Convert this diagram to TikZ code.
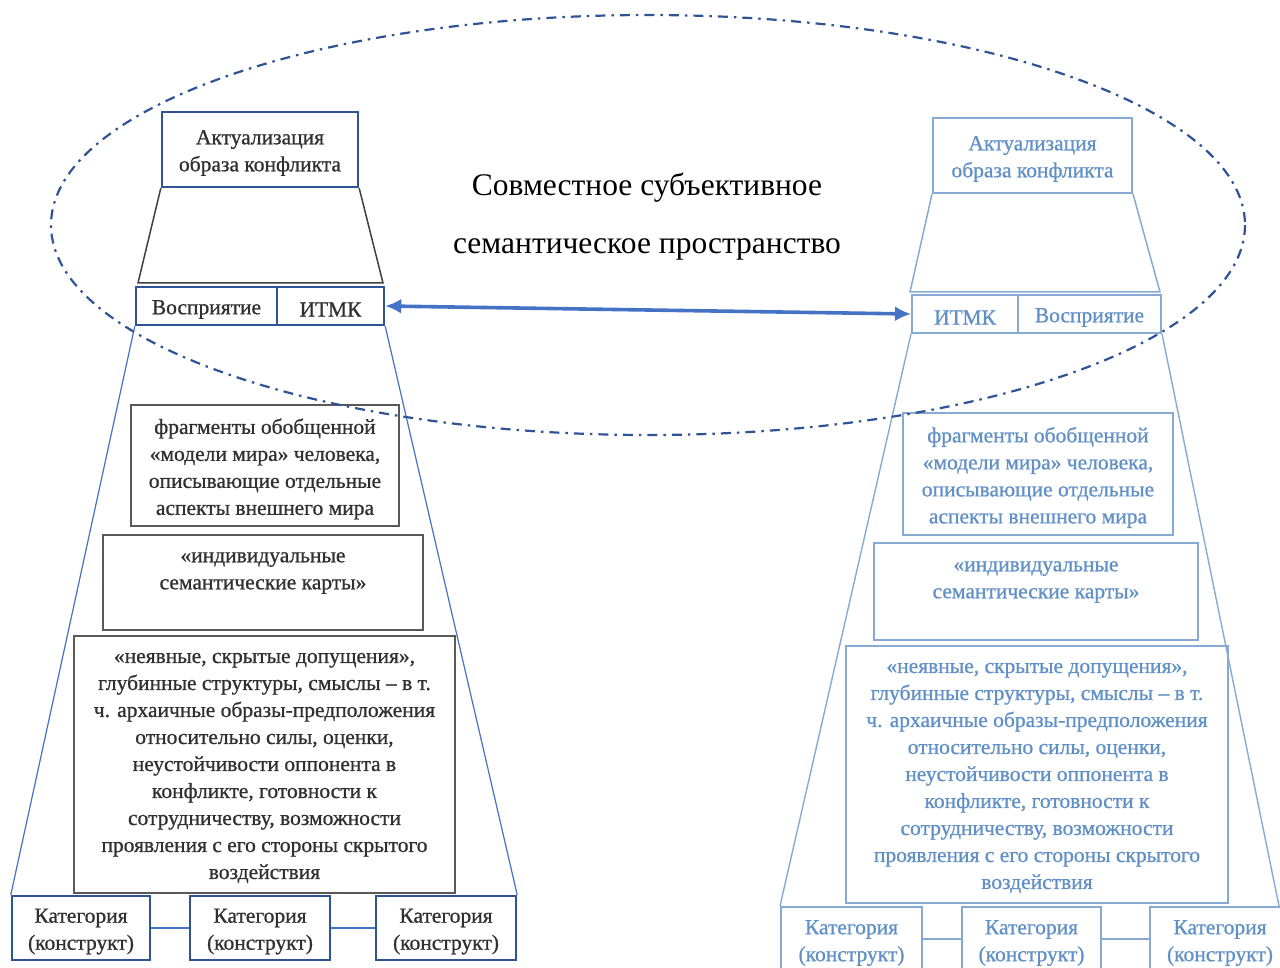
\documentclass[tikz,border=0pt]{standalone}
\usepackage{fontspec}
\setmainfont{Liberation Serif}
\newfontfamily\heavyserif[BoldFont={Liberation Serif}, BoldFeatures={FakeBold=0.8}]{Liberation Serif}
\usetikzlibrary{arrows.meta}
\definecolor{dkblue}{HTML}{2F5496}
\definecolor{midblue}{HTML}{4472C4}
\definecolor{grayL}{HTML}{595959}
\definecolor{trapL}{HTML}{404040}
\definecolor{txtL}{HTML}{303030}
\definecolor{ltline}{HTML}{86AAD3}
\definecolor{txtR}{HTML}{6090C6}
\newcommand{\bxfont}{\heavyserif\bfseries\fontsize{21.5}{27}\selectfont}
\newcommand{\ttlfont}{\fontsize{31.5}{36}\selectfont}
\tikzset{
  base/.style={align=center, inner sep=0pt, font=\bxfont},
  lbox/.style={base, draw=dkblue, line width=2.4pt},
  lgbox/.style={base, draw=grayL, line width=1.6pt},
  rbox/.style={base, draw=ltline, line width=2pt},
  ltxt/.style={base, text=txtL, yshift=-3.5pt},
  rtxt/.style={base, text=txtR, yshift=-3.5pt},
  trapL/.style={draw=trapL, line width=1.5pt},
  trapR/.style={draw=ltline, line width=1.5pt},
  divL/.style={draw=midblue, line width=1.2pt},
  divR/.style={draw=ltline, line width=1.4pt},
  connL/.style={draw=midblue, line width=2pt},
  connR/.style={draw=ltline, line width=2pt},
  ell/.style={draw=dkblue, line width=2.2pt, dash pattern=on 10pt off 6pt on 2.5pt off 6pt},
  link/.style={draw=midblue, line width=3.6pt, {Latex[length=16pt,width=15pt]}-{Latex[length=16pt,width=15pt]}},
}
\begin{document}
\begin{tikzpicture}[x=1pt,y=-1pt]
\clip (0,0) rectangle (1280,968);
\fill[white] (0,0) rectangle (1280,968);

% ---------- left structure ----------
\node[lbox, minimum width=196, minimum height=75, label={[ltxt]center:{Актуализация\\образа конфликта}}] (aL) at (260,149.5) {};
\coordinate (tL1) at (138,283);
\coordinate (tL2) at (383,283);
\draw[trapL] (aL.south west) -- (tL1) -- (tL2) -- (aL.south east);
\node[lbox, minimum width=141, minimum height=38, label={[ltxt]center:Восприятие}] (percL) at (206.5,306) {};
\node[lbox, minimum width=107, minimum height=38, label={[ltxt]center:ИТМК}] (itmkL) at (330.5,306) {};
\node[lgbox, minimum width=268, minimum height=121, label={[ltxt]center:{фрагменты обобщенной\\«модели мира» человека,\\описывающие отдельные\\аспекты внешнего мира}}] (fragL) at (265,465.5) {};
\node[lgbox, minimum width=320, minimum height=95] (indL) at (263,582.5) {};
\node[ltxt] (indLt) at (263,569.5) {«индивидуальные\\семантические карты»};
\node[lgbox, minimum width=381, minimum height=257, label={[ltxt]center:{«неявные, скрытые допущения»,\\глубинные структуры, смыслы – в т.\\ч. архаичные образы-предположения\\относительно силы, оценки,\\неустойчивости оппонента в\\конфликте, готовности к\\сотрудничеству, возможности\\проявления с его стороны скрытого\\воздействия}}] (nevL) at (264.5,764.5) {};
\node[lbox, minimum width=138, minimum height=64, label={[ltxt]center:{Категория\\(конструкт)}}] (c1L) at (81,928) {};
\node[lbox, minimum width=140, minimum height=64, label={[ltxt]center:{Категория\\(конструкт)}}] (c2L) at (260,928) {};
\node[lbox, minimum width=140, minimum height=64, label={[ltxt]center:{Категория\\(конструкт)}}] (c3L) at (446,928) {};
\draw[divL] (percL.south west) -- (c1L.north west);
\draw[divL] (itmkL.south east) -- (c3L.north east);
\draw[connL] (c1L.east) -- (c2L.west);
\draw[connL] (c2L.east) -- (c3L.west);

% ---------- right structure ----------
\node[rbox, minimum width=199, minimum height=75, label={[rtxt]center:{Актуализация\\образа конфликта}}] (aR) at (1032.5,155.5) {};
\coordinate (tR1) at (910,292);
\coordinate (tR2) at (1160,292);
\draw[trapR] (aR.south west) -- (tR1) -- (tR2) -- (aR.south east);
\node[rbox, minimum width=106, minimum height=38, label={[rtxt]center:ИТМК}] (itmkR) at (965,314) {};
\node[rbox, minimum width=143, minimum height=38, label={[rtxt]center:Восприятие}] (percR) at (1089.5,314) {};
\node[rbox, minimum width=270, minimum height=122, label={[rtxt]center:{фрагменты обобщенной\\«модели мира» человека,\\описывающие отдельные\\аспекты внешнего мира}}] (fragR) at (1038,474) {};
\node[rbox, minimum width=324, minimum height=97] (indR) at (1036,591.5) {};
\node[rtxt] (indRt) at (1036,578.5) {«индивидуальные\\семантические карты»};
\node[rbox, minimum width=382, minimum height=257, label={[rtxt]center:{«неявные, скрытые допущения»,\\глубинные структуры, смыслы – в т.\\ч. архаичные образы-предположения\\относительно силы, оценки,\\неустойчивости оппонента в\\конфликте, готовности к\\сотрудничеству, возможности\\проявления с его стороны скрытого\\воздействия}}] (nevR) at (1037,774.5) {};
\node[rbox, minimum width=141, minimum height=64, label={[rtxt, yshift=-0.5pt]center:{Категория\\(конструкт)}}] (c1R) at (851.5,939) {};
\node[rbox, minimum width=139, minimum height=64, label={[rtxt, yshift=-0.5pt]center:{Категория\\(конструкт)}}] (c2R) at (1031.5,939) {};
\node[rbox, minimum width=140, minimum height=64, label={[rtxt, yshift=-0.5pt]center:{Категория\\(конструкт)}}] (c3R) at (1220,939) {};
\coordinate (dR) at (1279,906);
\draw[divR] (itmkR.south west) -- (c1R.north west);
\draw[divR] (percR.south east) -- (dR);
\draw[connR] (c1R.east) -- (c2R.west);
\draw[connR] (c2R.east) -- (c3R.west);

% ---------- shared space ----------
\draw[ell] (648,225) ellipse [x radius=597, y radius=210];
\node[font=\ttlfont, text=black, inner sep=0pt] (ttl1) at (647,188) {Совместное субъективное};
\node[font=\ttlfont, text=black, inner sep=0pt] (ttl2) at (647,249) {семантическое пространство};
\draw[link] (itmkL.east) -- (itmkR.west);
\end{tikzpicture}
\end{document}
